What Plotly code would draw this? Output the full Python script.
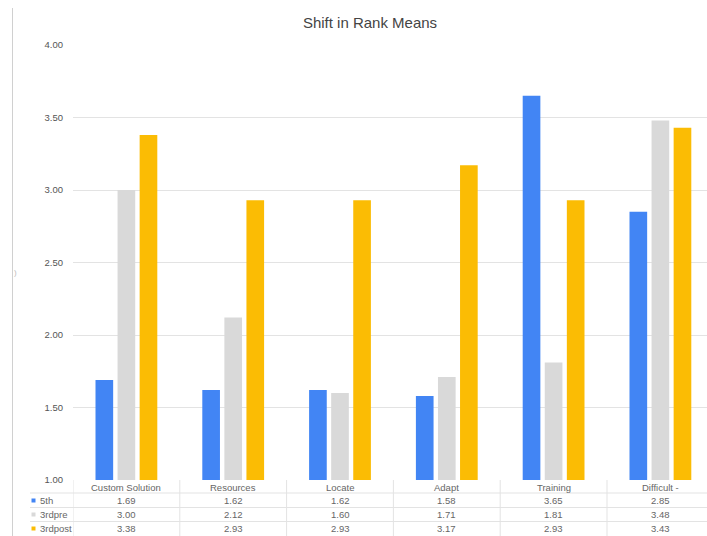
import plotly.graph_objects as go

categories = ["Custom Solution", "Resources", "Locate", "Adapt", "Training", "Difficult -"]
series_names = ["5th", "3rdpre", "3rdpost"]
vals_5th = [1.69, 1.62, 1.62, 1.58, 3.65, 2.85]
vals_3rdpre = [3.00, 2.12, 1.60, 1.71, 1.81, 3.48]
vals_3rdpost = [3.38, 2.93, 2.93, 3.17, 2.93, 3.43]
y_ticks = [1.0, 1.5, 2.0, 2.5, 3.0, 3.5, 4.0]

colors = ["#4285F4", "#D9D9D9", "#FBBC04"]
all_vals = [vals_5th, vals_3rdpre, vals_3rdpost]
FONT = "Arial, Liberation Sans, sans-serif"

W, H = 707, 536
L, T, B, R = 73, 45, 56, 0
plot_w = W - L - R
plot_h = H - T - B
xs = list(range(len(categories)))
# category width ~106.8 px; last column extends slightly past the canvas
cat_px = 106.8
x_hi = -0.5 + plot_w / cat_px

fig = go.Figure()
for name, vals, col in zip(series_names, all_vals, colors):
    fig.add_trace(go.Bar(x=xs, y=vals, name=name, marker=dict(color=col, line=dict(width=0)),
                         base=None, showlegend=False))


def py2paper(py):
    return (T + plot_h - py) / plot_h


def px2paper(px):
    return (px - L) / plot_w


shapes = []
annotations = []
grid_c = "#E3E3E3"
txt_c = "#666666"

# table row lines
row_lines = [493, 507.5, 521.5]
for py in row_lines:
    shapes.append(dict(type="line", xref="paper", yref="paper", x0=px2paper(30), x1=1.02,
                       y0=py2paper(py), y1=py2paper(py), line=dict(color=grid_c, width=1)))
# column separators
for i in range(len(categories) + 1):
    shapes.append(dict(type="line", xref="x", yref="paper", x0=i - 0.5, x1=i - 0.5,
                       y0=py2paper(480), y1=py2paper(540), line=dict(color=grid_c, width=1)))
# faint screenshot border line at left
shapes.append(dict(type="line", xref="paper", yref="paper", x0=px2paper(12.5), x1=px2paper(12.5),
                   y0=py2paper(8), y1=py2paper(540), line=dict(color="#D0D0D0", width=1)))

# header labels
for i, c in enumerate(categories):
    annotations.append(dict(x=i, y=py2paper(487), xref="x", yref="paper", text=c, showarrow=False,
                            font=dict(size=9.5, color=txt_c, family=FONT), xanchor="center", yanchor="middle"))
row_y = [500.5, 514.5, 528.5]
for name, vals, col, ry in zip(series_names, all_vals, colors, row_y):
    shapes.append(dict(type="rect", xref="paper", yref="paper", x0=px2paper(31.5), x1=px2paper(35.5),
                       y0=py2paper(ry + 2), y1=py2paper(ry - 2), fillcolor=col, line=dict(width=0)))
    annotations.append(dict(x=px2paper(37.5), y=py2paper(ry), xref="paper", yref="paper", text=name,
                            showarrow=False, font=dict(size=9.5, color=txt_c, family=FONT),
                            xanchor="left", yanchor="middle"))
    for i, v in enumerate(vals):
        annotations.append(dict(x=i, y=py2paper(ry), xref="x", yref="paper", text=f"{v:.2f}",
                                showarrow=False, font=dict(size=9.5, color=txt_c, family=FONT),
                                xanchor="center", yanchor="middle"))
annotations.append(dict(x=px2paper(12), y=py2paper(272), xref="paper", yref="paper", text=")",
                        showarrow=False, font=dict(size=8, color="#BBBBBB", family=FONT)))

fig.update_layout(
    width=W, height=H,
    margin=dict(l=L, r=R, t=T, b=B),
    paper_bgcolor="white", plot_bgcolor="white",
    barmode="group", bargap=0.38, bargroupgap=0.2,
    title=dict(text="Shift in Rank Means", x=(370) / W, xanchor="center", y=1 - 23 / H, yanchor="middle",
               font=dict(size=15, color="#444444", family=FONT)),
    xaxis=dict(range=[-0.5, x_hi], showticklabels=False, showgrid=False, zeroline=False,
               showline=False, ticks="", fixedrange=True),
    yaxis=dict(range=[1, 4], tickvals=y_ticks, ticktext=[f"{t:.2f}" for t in y_ticks],
               showgrid=True, gridcolor=grid_c, gridwidth=1, zeroline=False, showline=False,
               ticks="", ticklabelstandoff=9, tickfont=dict(size=9.5, color="#555555", family=FONT)),
    shapes=shapes, annotations=annotations,
    font=dict(family=FONT),
)
fig.write_html("out.html")
